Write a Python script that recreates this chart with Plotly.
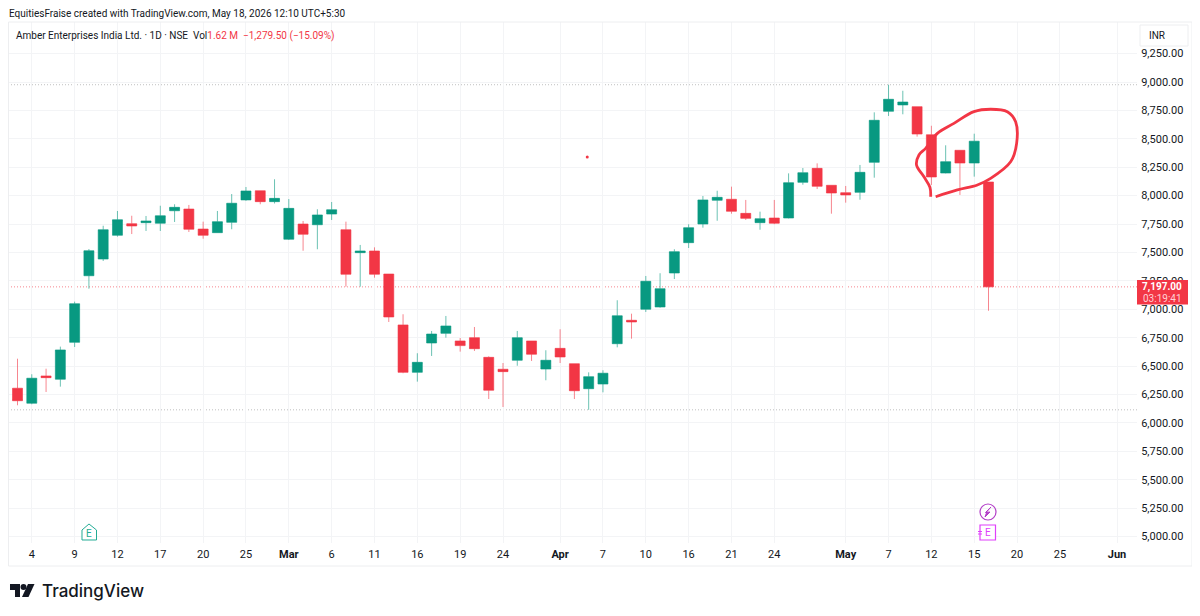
import plotly.graph_objects as go

# daily candles
opens = [6305, 6173, 6413, 6384, 6709, 7295, 7442, 7651, 7753, 7762, 7757, 7867, 7882, 7706, 7674, 7765, 7962, 8043, 7947,
         7616, 7750, 7744, 7838, 7700, 7498, 7513, 7310, 6862, 6445, 6703, 6788, 6721, 6750, 6577, 6472, 6551, 6721, 6474,
         6656, 6521, 6301, 6342, 6697, 6903, 7000, 7020, 7319, 7586, 7750, 7959, 7968, 7844, 7762, 7803, 7803, 8117, 8240,
         8091, 8026, 8029, 8293, 8742, 8798, 8783, 8536, 8199, 8399, 8287, 8120]
highs = [6565, 6428, 6477, 6671, 7067, 7530, 7735, 7865, 7823, 7821, 7911, 7924, 7918, 7771, 7865, 8014, 8076, 8043, 8144,
         7970, 7777, 7880, 7944, 7771, 7566, 7545, 7310, 6956, 6613, 6809, 6941, 6747, 6844, 6586, 6527, 6809, 6721, 6639,
         6824, 6521, 6445, 6463, 7079, 6961, 7293, 7317, 7528, 7748, 7997, 8043, 8079, 7962, 7859, 7962, 8196, 8243, 8284,
         8091, 8085, 8270, 8733, 8976, 8923, 8783, 8615, 8443, 8399, 8545, 8120]
lows = [6155, 6164, 6272, 6319, 6668, 7181, 7425, 7639, 7662, 7689, 7689, 7768, 7680, 7621, 7674, 7704, 7955, 7924, 7931,
        7610, 7515, 7528, 7786, 7199, 7199, 7278, 6888, 6437, 6363, 6589, 6750, 6627, 6633, 6210, 6140, 6503, 6545, 6375,
        6527, 6210, 6115, 6269, 6665, 6741, 6976, 7014, 7266, 7539, 7718, 7779, 7841, 7786, 7700, 7748, 7800, 8096, 8058,
        7841, 7938, 7964, 8158, 8701, 8716, 8519, 8094, 8196, 8006, 8167, 6987]
closes = [6195, 6393, 6398, 6642, 7049, 7515, 7700, 7788, 7733, 7777, 7823, 7897, 7704, 7651, 7771, 7933, 8041, 7947, 7976,
          7888, 7660, 7830, 7876, 7308, 7513, 7308, 6932, 6445, 6533, 6782, 6853, 6680, 6653, 6287, 6451, 6750, 6604, 6551,
          6580, 6283, 6407, 6437, 6943, 6888, 7246, 7181, 7507, 7718, 7962, 7985, 7862, 7800, 7797, 7757, 8114, 8202, 8082,
          8023, 8006, 8205, 8663, 8848, 8824, 8542, 8164, 8299, 8287, 8479, 7197]
bars = list(range(len(opens)))

tick_bars = [1, 4, 7, 10, 13, 16, 19, 22, 25, 28, 31, 34, 38, 41, 44, 47, 50, 53, 58, 61, 64, 67, 70, 73, 77]
tick_labels = ["4", "9", "12", "17", "20", "25", "<b>Mar</b>", "6", "11", "16", "19", "24", "<b>Apr</b>", "7", "10", "16",
               "21", "24", "<b>May</b>", "7", "12", "15", "20", "25", "<b>Jun</b>"]
price_ticks = [5000, 5250, 5500, 5750, 6000, 6250, 6500, 6750, 7000, 7250, 7500, 7750, 8000, 8250, 8500, 8750, 9000, 9250]

last_price = 7197
period_high = 8976
period_low = 6115

# the hand drawn loop around the last few candles
loop_bars = [63.95, 63.9, 63.48, 62.96, 63.13, 63.6, 64.42, 65.58, 66.98, 68.15, 69.32, 69.9, 69.97, 69.55, 68.15, 67.22,
             65.82, 64.3]
loop_prices = [7990, 8073, 8166, 8270, 8358, 8416, 8548, 8636, 8739, 8760, 8739, 8650, 8460, 8298, 8152, 8094, 8050, 7990]
dot_bar = [39.9]
dot_price = [8340]

RED = "#F23645"
GREEN = "#089981"
TEXT = "#131722"
GRID = "#F3F4F6"
FONT = "Roboto"

# plot area in page pixels; the page body has an 8px margin, so the figure starts at (8, 8)
LEFT, RIGHT, TOP, BOTTOM = 8, 1137, 22, 543
WIDTH, HEIGHT = 1192, 608


def px(x):
    return (x - LEFT) / (RIGHT - LEFT)


def py(y):
    return (BOTTOM - y) / (BOTTOM - TOP)


def poly(points, closed=True):
    path = "M " + " L ".join(f"{px(x):.5f},{py(y):.5f}" for x, y in points)
    return path + (" Z" if closed else "")


def add_path(fig, points, line=None, fill=None, width=1, closed=True):
    fig.add_shape(type="path", path=poly(points, closed), xref="paper", yref="paper",
                  line=dict(color=line or "rgba(0,0,0,0)", width=width),
                  fillcolor=fill or "rgba(0,0,0,0)", layer="above")


def add_box(fig, x0, y0, x1, y1, line=None, fill=None, kind="rect", width=1):
    fig.add_shape(type=kind, xref="paper", yref="paper", x0=px(x0), x1=px(x1), y0=py(y0), y1=py(y1),
                  line=dict(color=line or "rgba(0,0,0,0)", width=width),
                  fillcolor=fill or "rgba(0,0,0,0)", layer="above")


def add_text(fig, x, y, text, size=11, color=TEXT, anchor="left", font=FONT, weight="normal"):
    fig.add_annotation(x=px(x), y=py(y), xref="paper", yref="paper", text=text, showarrow=False,
                       xanchor=anchor, yanchor="middle", align=anchor, borderpad=0,
                       font=dict(family=font, size=size, color=color, weight=weight))


fig = go.Figure()
fig.add_trace(go.Candlestick(
    x=bars, open=opens, high=highs, low=lows, close=closes,
    increasing=dict(fillcolor=GREEN, line=dict(color="rgba(8,153,129,0.6)", width=1)),
    decreasing=dict(fillcolor=RED, line=dict(color="rgba(242,54,69,0.6)", width=1)),
    showlegend=False, hoverinfo="skip",
))
fig.add_trace(go.Scatter(x=loop_bars, y=loop_prices, mode="lines", line=dict(color=RED, width=2.8, shape="spline"),
                         showlegend=False, hoverinfo="skip"))
fig.add_trace(go.Scatter(x=dot_bar, y=dot_price, mode="markers", marker=dict(color=RED, size=3),
                         showlegend=False, hoverinfo="skip"))

# high, low and last price lines
for level, colour in [(period_high, "rgba(150,150,150,0.6)"), (period_low, "rgba(150,150,150,0.6)"),
                      (last_price, "rgba(242,54,69,0.6)")]:
    fig.add_shape(type="line", xref="paper", yref="y", x0=0, x1=1, y0=level, y1=level, layer="below",
                  line=dict(color=colour, width=1, dash="1px,2px"))

# chart frame
add_box(fig, 8.5, 22, 1192, 566, line="#EDEEF0")

# header and legend text
add_text(fig, 8, 13.5, "EquitiesFraise created with TradingView.com, May 18, 2026 12:10 UTC+5:30", size=10)
add_text(fig, 15, 35.5, "Amber Enterprises India Ltd. · 1D · NSE  Vol"
         f'<span style="color:{RED}">1.62 M  −1,279.50 (−15.09%)</span>', size=10)

# currency button
add_box(fig, 1140, 25, 1188, 46, line="#EDEEF0", fill="white")
add_text(fig, 1148, 36, "INR", size=10)

# last price tag
add_box(fig, 1137, 280, 1188, 304.5, fill=RED)
add_text(fig, 1183, 286.5, "<b>7,197.00</b>", size=10, color="white", anchor="right")
add_text(fig, 1183, 298, "03:19:41", size=10, color="#FFD0D5", anchor="right")

# earnings and dividend markers
add_path(fig, [(82, 530), (89, 524), (96.5, 530), (96.5, 540), (82, 540)], line="#22AB94", fill="white")
add_text(fig, 89.3, 533.5, "E", size=10, color="#22AB94", anchor="center")
add_box(fig, 980, 504, 996, 520, line="#B33FC8", kind="circle", width=1.2)
add_path(fig, [(991, 507), (985.5, 512.5), (990, 512), (985, 517), (987, 511.5), (991, 507)], line="#B33FC8", fill="#B33FC8")
add_box(fig, 980, 525, 995.5, 540, line="#E040FB", fill="white", width=1.2)
add_text(fig, 988, 532.5, "E", size=10, color="#E040FB", anchor="center")
add_path(fig, [(978, 531.5), (982, 531.5)], line="#E040FB", closed=False)
add_path(fig, [(978, 534), (982, 534)], line="#E040FB", closed=False)

# TradingView logo
add_path(fig, [(10, 584), (20, 584), (20, 597), (15, 597), (15, 590), (10, 590)], fill="#131722")
add_box(fig, 20.5, 584, 26.5, 590, fill="#131722", kind="circle")
add_path(fig, [(28, 584), (34.5, 584), (28.5, 597), (22, 597)], fill="#131722")
add_text(fig, 40.5, 591, "TradingView", size=17, color="#131722", font="Inter", weight=500)

fig.update_layout(
    width=WIDTH, height=HEIGHT, autosize=False,
    margin=dict(l=LEFT - 8, r=8 + WIDTH - RIGHT, t=TOP - 8, b=8 + HEIGHT - BOTTOM),
    paper_bgcolor="white", plot_bgcolor="white",
    showlegend=False, font=dict(family=FONT, size=11, color=TEXT),
    boxgap=0.3, boxgroupgap=0,
)
fig.update_xaxes(
    range=[-0.666, 78.4], rangeslider_visible=False,
    tickmode="array", tickvals=tick_bars, ticktext=tick_labels,
    showgrid=True, gridcolor=GRID, gridwidth=1, zeroline=False,
    ticks="outside", ticklen=1, tickcolor="white", tickfont=dict(family=FONT, size=11, color=TEXT),
)
fig.update_yaxes(
    range=[4943, 9528], side="right",
    tickmode="array", tickvals=price_ticks, tickformat=",.2f",
    showgrid=True, gridcolor=GRID, gridwidth=1, zeroline=False,
    ticks="outside", ticklen=1, tickcolor="white", tickfont=dict(family=FONT, size=11, color=TEXT),
)

fig.write_html("out.html")
